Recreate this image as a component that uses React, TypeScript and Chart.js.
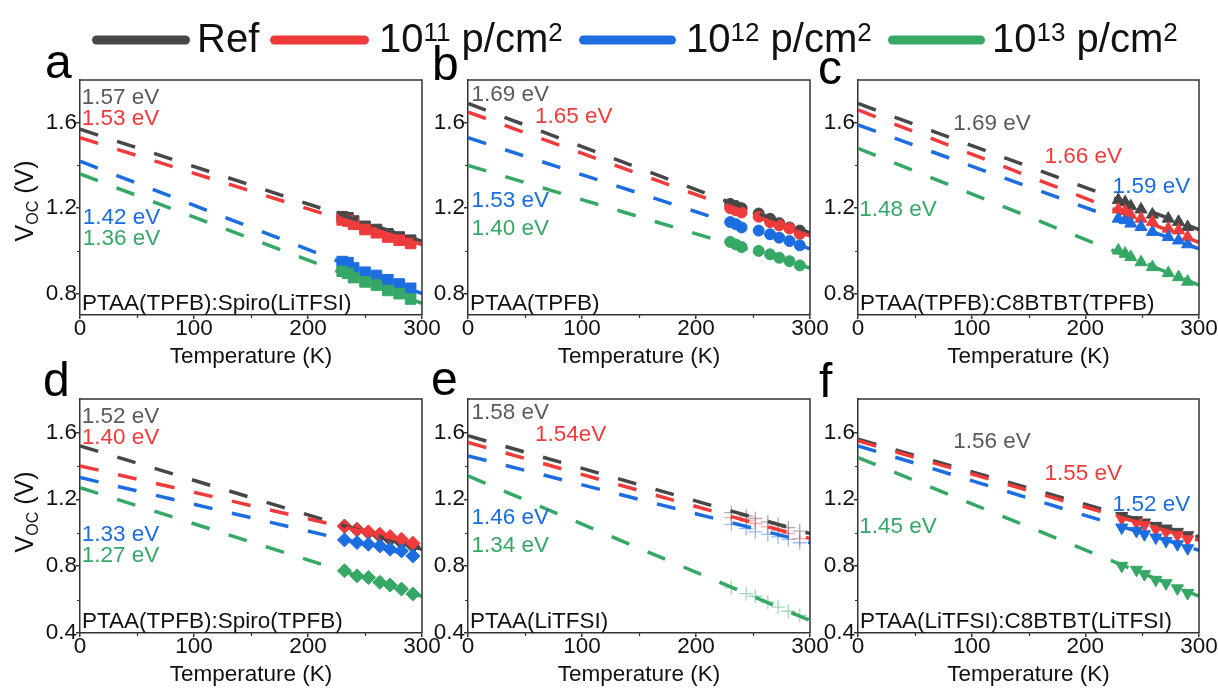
import React, { useEffect, useRef } from 'react';
import { Chart, registerables } from 'chart.js';

Chart.register(...registerables);

const FONT = "'Liberation Sans', Arial, Helvetica, sans-serif";

// ---------- shared axis data ----------
const FIT_T = [0, 300];
const X_TICKS = [0, 100, 200, 300];
const X_MINOR = [50, 150, 250];
const Y_TICKS_TOP = [0.8, 1.2, 1.6];
const Y_MINOR_TOP = [1.0, 1.4];
const Y_TICKS_BOTTOM = [0.4, 0.8, 1.2, 1.6];
const Y_MINOR_BOTTOM = [0.6, 1.0, 1.4];
const Y_RANGE_TOP = [0.7, 1.8];
const Y_RANGE_BOTTOM = [0.4, 1.8];

// ---------- legend ----------
const LEGEND_BASE = ['Ref', '10', '10', '10'];
const LEGEND_EXP = ['', '11', '12', '13'];

// ---------- panel a ----------
const T_A = [230, 235, 240, 250, 260, 270, 280, 290];
const REF_A = [1.16, 1.155, 1.14, 1.115, 1.1, 1.08, 1.065, 1.05];
const P11_A = [1.145, 1.14, 1.125, 1.1, 1.085, 1.065, 1.05, 1.035];
const P12_A = [0.95, 0.945, 0.92, 0.9, 0.885, 0.865, 0.845, 0.825];
const P13_A = [0.905, 0.895, 0.875, 0.855, 0.84, 0.815, 0.8, 0.775];
const FIT_A = [[1.57, 1.045], [1.53, 1.03], [1.42, 0.8], [1.36, 0.755]];
const EV_A = ['1.57 eV', '1.53 eV', '1.42 eV', '1.36 eV'];

// ---------- panel b ----------
const T_B = [230, 235, 240, 255, 265, 273, 282, 291];
const REF_B = [1.22, 1.21, 1.2, 1.175, 1.15, 1.13, 1.11, 1.095];
const P11_B = [1.2, 1.19, 1.18, 1.16, 1.135, 1.12, 1.105, 1.08];
const P12_B = [1.135, 1.125, 1.11, 1.095, 1.078, 1.062, 1.046, 1.026];
const P13_B = [1.042, 1.03, 1.018, 1.0, 0.984, 0.968, 0.952, 0.932];
const FIT_B = [[1.69, 1.085], [1.65, 1.07], [1.53, 1.01], [1.4, 0.92]];
const EV_B = ['1.69 eV', '1.65 eV', '1.53 eV', '1.40 eV'];

// ---------- panel c ----------
const T_C = [229, 235, 240, 249, 259, 273, 282, 290];
const REF_C = [1.238, 1.228, 1.209, 1.194, 1.17, 1.151, 1.136, 1.112];
const P11_C = [1.194, 1.187, 1.167, 1.151, 1.136, 1.104, 1.096, 1.065];
const P12_C = [1.151, 1.144, 1.128, 1.112, 1.089, 1.065, 1.049, 1.031];
const P13_C = [1.002, 0.987, 0.971, 0.947, 0.924, 0.896, 0.877, 0.856];
const FIT_C = [[1.69, 1.1], [1.66, 1.04], [1.59, 1.01], [1.48, 0.84]];
const EV_C = ['1.69 eV', '1.66 eV', '1.59 eV', '1.48 eV'];

// ---------- panel d ----------
const T_D = [232, 243, 253, 263, 272, 282, 292];
const REF_D = [1.04, 1.02, 1.0, 0.98, 0.96, 0.94, 0.92];
const P11_D = [1.037, 1.017, 1.005, 0.991, 0.977, 0.961, 0.937];
const P12_D = [0.957, 0.941, 0.931, 0.921, 0.901, 0.891, 0.861];
const P13_D = [0.772, 0.742, 0.732, 0.703, 0.687, 0.663, 0.633];
const FIT_D = [[1.52, 0.9], [1.4, 0.925], [1.33, 0.85], [1.27, 0.62]];
const EV_D = ['1.52 eV', '1.40 eV', '1.33 eV', '1.27 eV'];

// ---------- panel e ----------
const T_E = [231, 244, 252, 263, 272, 281, 291];
const REF_E = [1.12, 1.1, 1.085, 1.065, 1.05, 1.03, 1.01];
const P11_E = [1.09, 1.07, 1.055, 1.035, 1.015, 0.995, 0.965];
const P12_E = [1.05, 1.025, 1.005, 0.99, 0.975, 0.96, 0.94];
const P13_E = [0.67, 0.635, 0.62, 0.585, 0.555, 0.53, 0.505];
const FIT_E = [[1.58, 0.995], [1.54, 0.965], [1.46, 0.94], [1.34, 0.475]];
const EV_E = ['1.58 eV', '1.54eV', '1.46 eV', '1.34 eV'];

// ---------- panel f ----------
const T_F = [232, 245, 252, 262, 271, 281, 290];
const REF_F = [1.1, 1.075, 1.061, 1.041, 1.025, 1.005, 0.985];
const P11_F = [1.085, 1.061, 1.045, 1.021, 1.005, 0.985, 0.961];
const P12_F = [1.031, 1.011, 0.991, 0.971, 0.951, 0.931, 0.907];
const P13_F = [0.802, 0.778, 0.752, 0.718, 0.698, 0.667, 0.639];
const FIT_F = [[1.56, 0.975], [1.55, 0.955], [1.52, 0.895], [1.45, 0.62]];
const EV_F = ['1.56 eV', '1.55 eV', '1.52 eV', '1.45 eV'];

const NAMES = [
  'PTAA(TPFB):Spiro(LiTFSI)',
  'PTAA(TPFB)',
  'PTAA(TPFB):C8BTBT(TPFB)',
  'PTAA(TPFB):Spiro(TPFB)',
  'PTAA(LiTFSI)',
  'PTAA(LiTFSI):C8BTBT(LiTFSI)',
];
const LETTERS = ['a', 'b', 'c', 'd', 'e', 'f'];

// ---------- styling / layout (not data) ----------
const COLORS = ['#474747', '#ef3b3b', '#1b6de0', '#36a865'];
const TEXT_COLORS = ['#5a5a5a', '#ef3b3b', '#1b6de0', '#36a865'];
const FRAME = '#333333';
const TEXT = '#111111';
const FS = 22.5;

// label anchors (left, baseline) in data coordinates [T, V]
const EVPOS_A = [[1.5, 1.689], [1.5, 1.59], [2.4, 1.128], [2.4, 1.026]];
const EVPOS_B = [[3, 1.7], [58.8, 1.598], [3, 1.206], [3, 1.073]];
const EVPOS_C = [[83.8, 1.567], [164, 1.413], [224, 1.269], [1, 1.162]];
const EVPOS_D = [[1.5, 1.658], [1.5, 1.528], [1.5, 0.951], [1.5, 0.826]];
const EVPOS_E = [[3, 1.678], [58.8, 1.548], [3, 1.051], [3, 0.882]];
const EVPOS_F = [[83.8, 1.508], [164, 1.315], [224, 1.13], [1, 1.001]];

// plot boxes in page px: [left, right, top, bottom]
const BOXES = [
  [80, 422, 80, 315],
  [468, 810, 80, 315],
  [858, 1199, 80, 315],
  [80, 422, 399, 633],
  [468, 810, 399, 633],
  [858, 1199, 399, 633],
];
const Y_W = 80;
const PAD_T = 12;
const PAD_R = 30;
const X_H = 55;

type PanelCfg = {
  temps: number[];
  series: number[][];
  fits: number[][];
  ev: string[];
  evPos: number[][];
  marker: string;
  rotation: number;
  radius: number;
  alpha: number;
  bottomRow: boolean;
};

const PANELS: PanelCfg[] = [
  { temps: T_A, series: [REF_A, P11_A, P12_A, P13_A], fits: FIT_A, ev: EV_A, evPos: EVPOS_A, marker: 'rect', rotation: 0, radius: 7.5, alpha: 1, bottomRow: false },
  { temps: T_B, series: [REF_B, P11_B, P12_B, P13_B], fits: FIT_B, ev: EV_B, evPos: EVPOS_B, marker: 'circle', rotation: 0, radius: 5.5, alpha: 1, bottomRow: false },
  { temps: T_C, series: [REF_C, P11_C, P12_C, P13_C], fits: FIT_C, ev: EV_C, evPos: EVPOS_C, marker: 'triangle', rotation: 0, radius: 7, alpha: 1, bottomRow: false },
  { temps: T_D, series: [REF_D, P11_D, P12_D, P13_D], fits: FIT_D, ev: EV_D, evPos: EVPOS_D, marker: 'rectRot', rotation: 0, radius: 7, alpha: 1, bottomRow: true },
  { temps: T_E, series: [REF_E, P11_E, P12_E, P13_E], fits: FIT_E, ev: EV_E, evPos: EVPOS_E, marker: 'cross', rotation: 0, radius: 7, alpha: 0.45, bottomRow: true },
  { temps: T_F, series: [REF_F, P11_F, P12_F, P13_F], fits: FIT_F, ev: EV_F, evPos: EVPOS_F, marker: 'triangle', rotation: 180, radius: 7, alpha: 1, bottomRow: true },
];

function withAlpha(hex: string, a: number) {
  const r = parseInt(hex.slice(1, 3), 16);
  const g = parseInt(hex.slice(3, 5), 16);
  const b = parseInt(hex.slice(5, 7), 16);
  return `rgba(${r},${g},${b},${a})`;
}

function Panel({ cfg, idx }: { cfg: PanelCfg; idx: number }) {
  const ref = useRef<HTMLCanvasElement | null>(null);
  const [L, R, T, B] = BOXES[idx];
  const width = R - L + Y_W + PAD_R;
  const height = B - T + PAD_T + X_H;

  useEffect(() => {
    const canvas = ref.current;
    if (!canvas) return;
    const yTicks = cfg.bottomRow ? Y_TICKS_BOTTOM : Y_TICKS_TOP;
    const yMinor = cfg.bottomRow ? Y_MINOR_BOTTOM : Y_MINOR_TOP;
    const yRange = cfg.bottomRow ? Y_RANGE_BOTTOM : Y_RANGE_TOP;

    const fitSets = cfg.fits.map((f, i) => ({
      data: FIT_T.map((t, k) => ({ x: t, y: f[k] })),
      showLine: true,
      borderColor: COLORS[i],
      backgroundColor: COLORS[i],
      borderWidth: 3.5,
      borderDash: [19, 20],
      borderCapStyle: 'butt',
      pointRadius: 0,
      pointHoverRadius: 0,
      fill: false,
      order: 4 - i,
    }));
    const markerSets = cfg.series.map((vals, i) => ({
      data: cfg.temps.map((t, k) => ({ x: t, y: vals[k] })),
      showLine: false,
      pointStyle: cfg.marker,
      pointRotation: cfg.rotation,
      pointRadius: cfg.radius,
      pointHoverRadius: cfg.radius,
      backgroundColor: withAlpha(COLORS[i], cfg.alpha),
      borderColor: withAlpha(COLORS[i], cfg.alpha),
      borderWidth: cfg.marker === 'cross' ? 1.3 : 1,
      order: 20 - i,
    }));

    const decor = {
      id: 'decor',
      afterDatasetsDraw(chart: any) {
        const { ctx, chartArea, scales } = chart;
        const { left, right, top, bottom } = chartArea;
        const xs = scales.x;
        const ys = scales.y;
        ctx.save();
        ctx.strokeStyle = FRAME;
        ctx.lineWidth = 1.5;
        ctx.beginPath();
        ctx.moveTo(left, top);
        ctx.lineTo(right, top);
        ctx.lineTo(right, bottom);
        ctx.stroke();
        ctx.lineWidth = 1.2;
        ctx.beginPath();
        X_MINOR.forEach((v) => {
          const px = Math.round(xs.getPixelForValue(v)) + 0.5;
          ctx.moveTo(px, bottom);
          ctx.lineTo(px, bottom + 3);
        });
        yMinor.forEach((v) => {
          const py = Math.round(ys.getPixelForValue(v)) + 0.5;
          ctx.moveTo(left, py);
          ctx.lineTo(left - 3, py);
        });
        ctx.stroke();
        ctx.font = `${FS}px ${FONT}`;
        ctx.textBaseline = 'alphabetic';
        ctx.textAlign = 'left';
        cfg.ev.forEach((t, i) => {
          ctx.fillStyle = TEXT_COLORS[i];
          ctx.fillText(t, xs.getPixelForValue(cfg.evPos[i][0]), ys.getPixelForValue(cfg.evPos[i][1]));
        });
        ctx.fillStyle = TEXT;
        ctx.fillText(NAMES[idx], left + 2, bottom - 5);
        ctx.restore();
      },
    };

    const chart = new Chart(canvas, {
      type: 'scatter',
      data: { datasets: [...fitSets, ...markerSets] as any },
      options: {
        responsive: false,
        animation: false,
        devicePixelRatio: 1,
        events: [],
        layout: { padding: { left: 0, right: PAD_R, top: PAD_T, bottom: 0 } },
        plugins: { legend: { display: false }, tooltip: { enabled: false } },
        scales: {
          x: {
            type: 'linear',
            min: 0,
            max: 300,
            afterBuildTicks: (s: any) => {
              s.ticks = X_TICKS.map((v) => ({ value: v }));
            },
            afterFit: (s: any) => {
              s.height = X_H;
              s.paddingLeft = 0;
              s.paddingRight = 0;
            },
            ticks: {
              callback: (v: any) => String(v),
              font: { size: FS, family: FONT, lineHeight: 1 },
              color: TEXT,
              padding: -1,
              maxRotation: 0,
              minRotation: 0,
              autoSkip: false,
            },
            grid: { display: true, drawOnChartArea: false, drawTicks: true, tickLength: 4, color: FRAME, lineWidth: 1.5 },
            border: { display: true, color: FRAME, width: 1.5 },
            title: {
              display: true,
              text: 'Temperature (K)',
              font: { size: FS, family: FONT, lineHeight: 1.2 },
              color: TEXT,
              padding: 0,
            },
          },
          y: {
            type: 'linear',
            min: yRange[0],
            max: yRange[1],
            afterBuildTicks: (s: any) => {
              s.ticks = yTicks.map((v) => ({ value: v }));
            },
            afterFit: (s: any) => {
              s.width = Y_W;
              s.paddingTop = 0;
              s.paddingBottom = 0;
            },
            ticks: {
              callback: (v: any) => Number(v).toFixed(1),
              font: { size: FS, family: FONT, lineHeight: 1 },
              color: TEXT,
              padding: -1,
              autoSkip: false,
            },
            grid: { display: true, drawOnChartArea: false, drawTicks: true, tickLength: 4, color: FRAME, lineWidth: 1.5 },
            border: { display: true, color: FRAME, width: 1.5 },
          },
        },
      },
      plugins: [decor],
    } as any);
    return () => chart.destroy();
  }, [cfg, idx]);

  return (
    <canvas
      ref={ref}
      width={width}
      height={height}
      style={{ position: 'absolute', left: L - Y_W, top: T - PAD_T, width, height }}
    />
  );
}

// overlay layout (page px)
const LEGEND_LINE_X = [[96.5, 185.5], [274.5, 364.5], [583.5, 671.5], [892.5, 980.5]];
const LEGEND_TEXT_X = [197, 379, 686, 992];
const LEGEND_LINE_Y = 40;
const LEGEND_BASELINE = 52;
const LETTER_POS = [[45, 78], [432, 80], [818, 84], [43, 396], [431, 395], [819, 397]];
const YTITLE_POS = [[33, 201], [33, 512]];

export default function App() {
  return (
    <div style={{ position: 'absolute', left: 0, top: 0, width: 1218, height: 688, background: '#ffffff', overflow: 'hidden' }}>
      {PANELS.map((p, i) => (
        <Panel key={i} cfg={p} idx={i} />
      ))}
      <svg
        width={1218}
        height={688}
        style={{ position: 'absolute', left: 0, top: 0, pointerEvents: 'none' }}
        fontFamily={FONT}
      >
        {LEGEND_BASE.map((base, i) => (
          <g key={i}>
            <line
              x1={LEGEND_LINE_X[i][0]}
              x2={LEGEND_LINE_X[i][1]}
              y1={LEGEND_LINE_Y}
              y2={LEGEND_LINE_Y}
              stroke={COLORS[i]}
              strokeWidth={9}
              strokeLinecap="round"
            />
            <text x={LEGEND_TEXT_X[i]} y={LEGEND_BASELINE} fontSize={40} fill={TEXT}>
              {base}
              {LEGEND_EXP[i] ? (
                <>
                  <tspan fontSize={26} dy={-11}>{LEGEND_EXP[i]}</tspan>
                  <tspan fontSize={40} dy={11}> p/cm</tspan>
                  <tspan fontSize={26} dy={-11}>2</tspan>
                </>
              ) : null}
            </text>
          </g>
        ))}
        {LETTERS.map((l, i) => (
          <text key={l} x={LETTER_POS[i][0]} y={LETTER_POS[i][1]} fontSize={48} fill="#000">
            {l}
          </text>
        ))}
        {YTITLE_POS.map((p, i) => (
          <text
            key={i}
            transform={`translate(${p[0]}, ${p[1]}) rotate(-90)`}
            textAnchor="middle"
            fontSize={25}
            fill={TEXT}
          >
            V<tspan fontSize={16} dy={5}>OC</tspan>
            <tspan dy={-5}> (V)</tspan>
          </text>
        ))}
      </svg>
    </div>
  );
}
